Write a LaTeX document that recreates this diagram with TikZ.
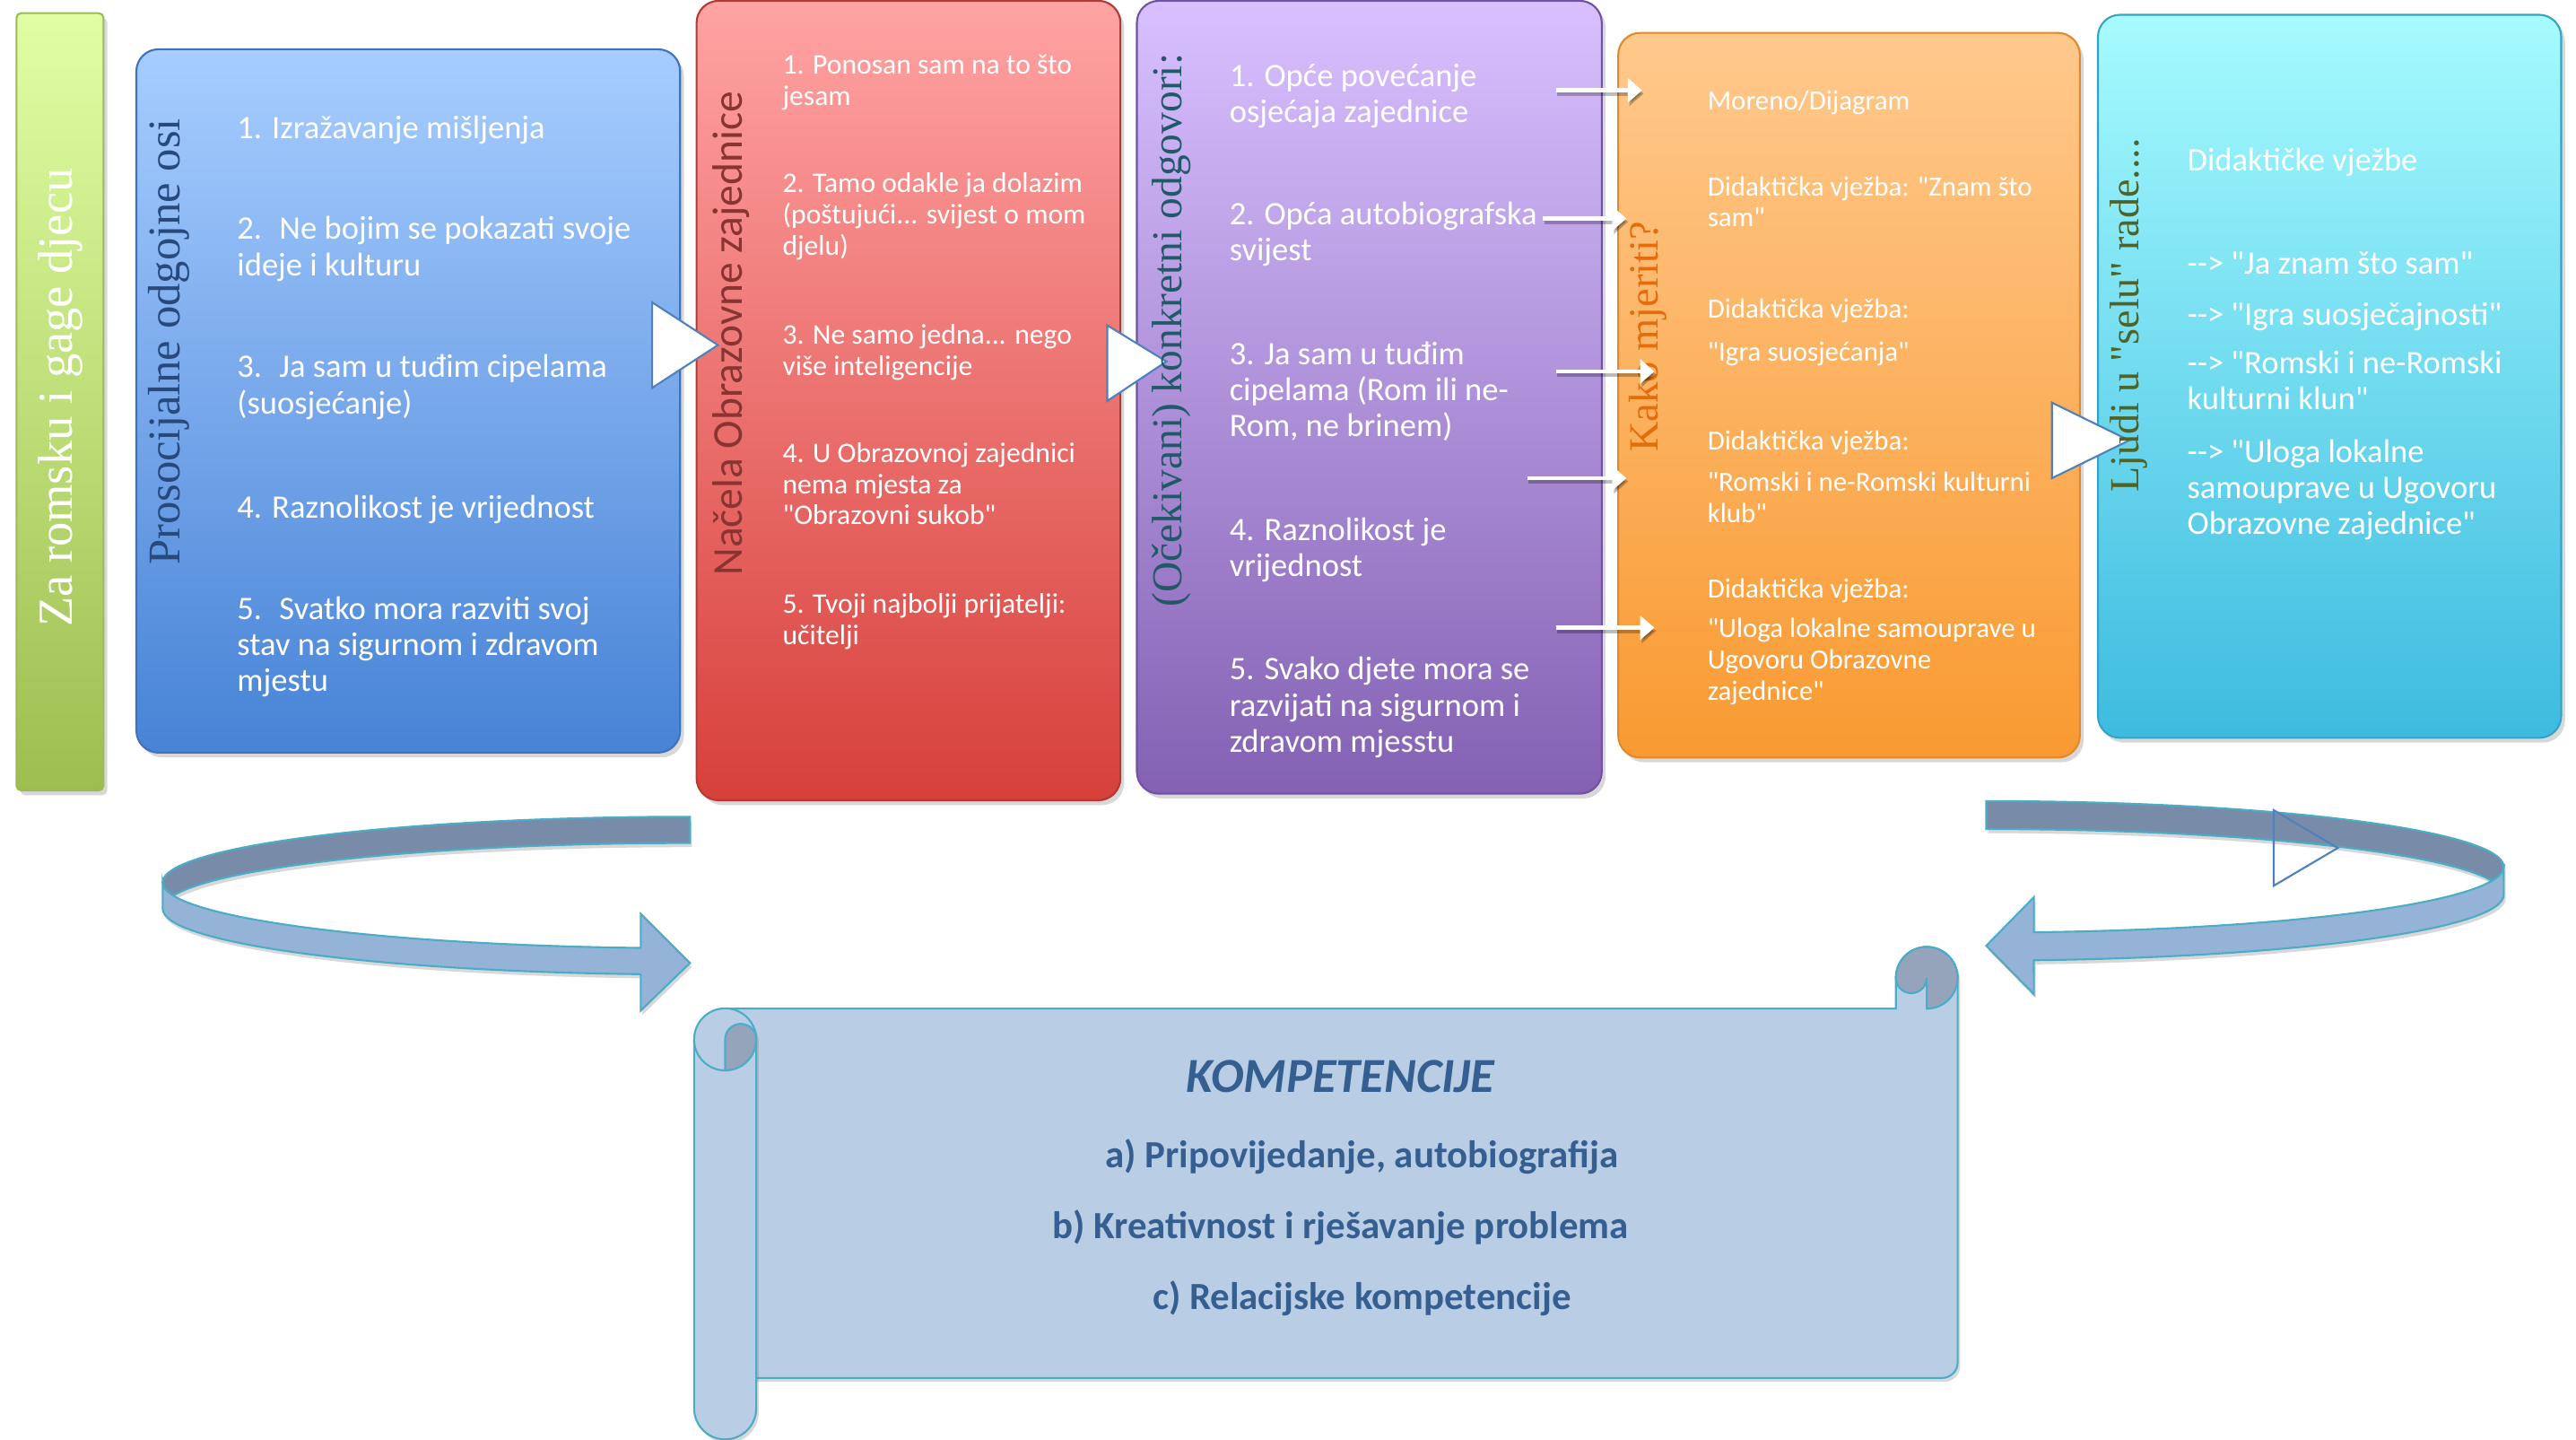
\documentclass[tikz,border=0pt]{standalone}
\usepackage{fontspec}
\setmainfont{Carlito}[Ligatures=TeXOff]
\newfontfamily\ttlserif{Liberation Serif}[Ligatures=TeXOff]
\usetikzlibrary{shadows,arrows.meta}
\definecolor{gTop}{HTML}{E0FFA4}\definecolor{gBot}{HTML}{9DBE4F}\definecolor{gEdge}{HTML}{9BBB59}
\definecolor{bTop}{HTML}{A7CDFF}\definecolor{bBot}{HTML}{4783D6}\definecolor{bEdge}{HTML}{3F72BD}
\definecolor{rTop}{HTML}{FFA3A3}\definecolor{rBot}{HTML}{D7403B}\definecolor{rEdge}{HTML}{B23A36}
\definecolor{pTop}{HTML}{D8C0FF}\definecolor{pBot}{HTML}{8461B3}\definecolor{pEdge}{HTML}{7052A0}
\definecolor{oTop}{HTML}{FFC98D}\definecolor{oBot}{HTML}{F99A31}\definecolor{oEdge}{HTML}{E3882B}
\definecolor{cTop}{HTML}{A6FBFF}\definecolor{cBot}{HTML}{3DBBE0}\definecolor{cEdge}{HTML}{36A3C4}
\definecolor{triEdge}{HTML}{4F81BD}
\definecolor{ribDarkC}{HTML}{788CA9}\definecolor{ribLightC}{HTML}{95B3D7}\definecolor{ribEdgeC}{HTML}{4BACC6}
\definecolor{scrFill}{HTML}{B9CDE5}\definecolor{scrDark}{HTML}{95A4BB}
\definecolor{kompC}{HTML}{365F91}
\definecolor{ttlBlue}{HTML}{27497C}\definecolor{ttlRed}{HTML}{8A3431}\definecolor{ttlTeal}{HTML}{215968}
\definecolor{ttlOrange}{HTML}{E46C0A}\definecolor{ttlOlive}{HTML}{4F6228}
\newcommand\fsB{\fontsize{10.4pt}{11.46pt}\selectfont}
\newcommand\fsR{\fontsize{9pt}{9.9pt}\selectfont}
\newcommand\fsO{\fontsize{8.8pt}{9.9pt}\selectfont}
\begin{document}
\begin{tikzpicture}[x=0.018316cm,y=-0.018316cm,
  itemB/.style={anchor=north west,inner sep=0pt,align=left,text=white,font=\fsB,execute at begin node=\strut},
  itemR/.style={itemB,font=\fsR},
  itemO/.style={itemB,font=\fsO},
  ttl/.style={rotate=90,inner sep=0pt,anchor=center},
  box/.style={rounded corners=7pt,line width=0.6pt,drop shadow={shadow xshift=1.2pt,shadow yshift=-1.5pt,opacity=0.3}},
  bigtri/.style={fill=white,draw=triEdge,line width=0.6pt},
  warrow/.style={draw=white,line width=1.3pt,-{Triangle[length=4.5pt,width=7.5pt]}},
  warrowsh/.style={draw=black,draw opacity=0.25,line width=1.3pt,-{Triangle[length=4.5pt,width=7.5pt]},fill opacity=0.25,fill=black},
  ribshadow/.style={drop shadow={shadow xshift=0.6pt,shadow yshift=-1.3pt,opacity=0.3}},
  ribdark/.style={fill=ribDarkC,draw=ribEdgeC,line width=0.6pt},
  riblight/.style={fill=ribLightC,draw=ribEdgeC,line width=0.6pt},
  scroll/.style={fill=scrFill,draw=ribEdgeC,line width=0.6pt},
  komp/.style={text=kompC,inner sep=0pt,anchor=center,font=\bfseries\fontsize{12.2pt}{14pt}\selectfont}
]
\fill[white] (0,0) rectangle (1568,876);
\useasboundingbox (0,0) rectangle (1568,876);

% ---------- boxes ----------
\path[box,rounded corners=1.5pt,top color=gTop,bottom color=gBot,draw=gEdge] (10,8) rectangle (63,481);
\path[box,top color=bTop,bottom color=bBot,draw=bEdge] (83,30) rectangle (414,458);
\path[box,top color=rTop,bottom color=rBot,draw=rEdge] (424,0.5) rectangle (682,487);
\path[box,top color=pTop,bottom color=pBot,draw=pEdge] (692,0.5) rectangle (975,483);
\path[box,top color=oTop,bottom color=oBot,draw=oEdge] (985,20) rectangle (1266,461);
\path[box,top color=cTop,bottom color=cBot,draw=cEdge] (1277,9) rectangle (1559,449);

% ---------- big triangles ----------
\path[bigtri] (397,184) -- (437,210) -- (397,236) -- cycle;
\path[bigtri] (674,198) -- (710,220) -- (674,244) -- cycle;
\path[bigtri] (1249,245) -- (1296,268) -- (1249,291) -- cycle;

% ---------- titles ----------
\node[ttl,text=white,font=\ttlserif\fontsize{15.5pt}{16pt}\selectfont] (t0) at (37,242) {Za romsku i gage djecu};
\node[ttl,text=ttlBlue,font=\ttlserif\fontsize{14.4pt}{15pt}\selectfont] (t1) at (103,208) {Prosocijalne odgojne osi};
\node[ttl,text=ttlRed,font=\fontsize{13.5pt}{14pt}\selectfont] (t2) at (445,203) {Načela Obrazovne zajednice};
\node[ttl,text=ttlTeal,font=\ttlserif\fontsize{13.5pt}{14pt}\selectfont] (t3) at (713,201) {(Očekivani) konkretni odgovori:};
\node[ttl,text=ttlOrange,font=\ttlserif\fontsize{13.2pt}{14pt}\selectfont] (t4) at (1003,205) {Kako mjeriti?};
\node[ttl,text=ttlOlive,font=\ttlserif\fontsize{13.1pt}{14pt}\selectfont] (t5) at (1296,192) {Ljudi u "selu" rade....};

% ---------- blue items ----------
\node[itemB] (b1) at (144,68.5) {1. Izražavanje mišljenja};
\node[itemB] (b2) at (144,131.5) {2.~ Ne bojim se pokazati svoje\\ideje i kulturu};
\node[itemB] (b3) at (144,215.5) {3.~ Ja sam u tuđim cipelama\\(suosjećanje)};
\node[itemB] (b4) at (144,299.5) {4. Raznolikost je vrijednost};
\node[itemB] (b5) at (144,362.5) {5.~ Svatko mora razviti svoj\\stav na sigurnom i zdravom\\mjestu};

% ---------- red items ----------
\node[itemR] (r1) at (476,33) {1. Ponosan sam na to što\\jesam};
\node[itemR] (r2) at (476,105) {2. Tamo odakle ja dolazim\\(poštujući... svijest o mom\\djelu)};
\node[itemR] (r3) at (476,197) {3. Ne samo jedna... nego\\više inteligencije};
\node[itemR] (r4) at (476,269) {4. U Obrazovnoj zajednici\\nema mjesta za\\"Obrazovni sukob"};
\node[itemR] (r5) at (476,361) {5. Tvoji najbolji prijatelji:\\učitelji};

% ---------- purple items ----------
\node[itemB] (p1) at (748,38.5) {1. Opće povećanje\\osjećaja zajednice};
\node[itemB] (p2) at (748,122.5) {2. Opća autobiografska\\svijest};
\node[itemB] (p3) at (748,207.5) {3. Ja sam u tuđim\\cipelama (Rom ili ne-\\Rom, ne brinem)};
\node[itemB] (p4) at (748,314.5) {4. Raznolikost je\\vrijednost};
\node[itemB] (p5) at (748,399.5) {5. Svako djete mora se\\razvijati na sigurnom i\\zdravom mjesstu};

% ---------- orange items ----------
\node[itemO] (o1) at (1039,53) {Moreno/Dijagram};
\node[itemO] (o2) at (1039,107) {Didaktička vježba: "Znam što\\sam"};
\node[itemO] (o3) at (1039,180) {Didaktička vježba:};
\node[itemO] (o4) at (1039,206) {"Igra suosjećanja"};
\node[itemO] (o5) at (1039,260) {Didaktička vježba:};
\node[itemO] (o6) at (1039,287) {"Romski i ne-Romski kulturni\\klub"};
\node[itemO] (o7) at (1039,350) {Didaktička vježba:};
\node[itemO] (o8) at (1039,376) {"Uloga lokalne samouprave u\\Ugovoru Obrazovne\\zajednice"};

% ---------- cyan items ----------
\node[itemB] (c1) at (1331,88.5) {Didaktičke vježbe};
\node[itemB] (c2) at (1331,151) {-{}-> "Ja znam što sam"};
\node[itemB] (c3) at (1331,182) {-{}-> "Igra suosječajnosti"};
\node[itemB] (c4) at (1331,213) {-{}-> "Romski i ne-Romski\\kulturni klun"};
\node[itemB] (c5) at (1331,267) {-{}-> "Uloga lokalne\\samouprave u Ugovoru\\Obrazovne zajednice"};

% ---------- white connectors ----------
\coordinate (a1s) at (947,55);   \coordinate (a1e) at (999.5,55);
\coordinate (a2s) at (939,133);  \coordinate (a2e) at (990,133);
\coordinate (a3s) at (947,226);  \coordinate (a3e) at (1007,226);
\coordinate (a4s) at (929.5,291);\coordinate (a4e) at (990,291);
\coordinate (a5s) at (947,382);  \coordinate (a5e) at (1007,382);
\foreach \s/\e in {a1s/a1e,a2s/a2e,a3s/a3e,a4s/a4e,a5s/a5e}{
  \draw[warrowsh] ([shift={(1,2)}]\s) -- ([shift={(1,2)}]\e);
  \draw[warrow] (\s) -- (\e);
}

% ---------- left ribbon arrow ----------
\path[ribdark,ribshadow] (99,537) arc[start angle=180,end angle=270,x radius=321,y radius=40]
  -- (420,513) arc[start angle=270,end angle=191.54,x radius=321,y radius=40]
  arc[start angle=168.46,end angle=180,x radius=321,y radius=40] -- cycle;
\path[riblight,ribshadow] (99,537) -- (99,553) arc[start angle=180,end angle=95.36,x radius=321,y radius=40]
  -- (390,615) -- (420,586) -- (390,556) -- (390,576.83)
  arc[start angle=95.36,end angle=180,x radius=321,y radius=40] -- cycle;

% ---------- right ribbon arrow ----------
\path[ribdark,ribshadow] (1209,487.5) arc[start angle=270,end angle=360,x radius=315,y radius=40]
  arc[start angle=0,end angle=12.27,x radius=315,y radius=40]
  arc[start angle=347.73,end angle=270,x radius=315,y radius=40] -- cycle;
\path[riblight,ribshadow] (1524,527.5) -- (1524,544.5) arc[start angle=0,end angle=84.72,x radius=315,y radius=40]
  -- (1238,605) -- (1209,575.5) -- (1238,546) -- (1238,567.3)
  arc[start angle=84.72,end angle=0,x radius=315,y radius=40] -- cycle;
\draw[triEdge,line width=0.6pt] (1384,493) -- (1423,516) -- (1384,539) -- cycle;

% ---------- scroll ----------
\path[scroll,drop shadow={shadow xshift=0.8pt,shadow yshift=-1.2pt,opacity=0.3}]
  (441.4,613.7) -- (1154,613.7) -- (1154,595) arc[start angle=180,end angle=360,radius=18.8]
  -- (1191.6,829.1) arc[start angle=0,end angle=90,radius=9.4] -- (441.4,838.5) -- cycle;
\path[fill=scrDark,draw=ribEdgeC,line width=0.6pt] (1154,595) arc[start angle=180,end angle=360,radius=18.8]
  arc[start angle=0,end angle=90,radius=18.8] -- (1172.8,595) arc[start angle=0,end angle=180,radius=9.4] -- cycle;
\path[scroll,drop shadow={shadow xshift=0.8pt,shadow yshift=-1.2pt,opacity=0.3}]
  (422.5,632.5) -- (422.5,857) arc[start angle=180,end angle=0,radius=18.9]
  -- (460.3,632.5) arc[start angle=0,end angle=-180,radius=18.9] -- cycle;
\path[fill=scrDark,draw=ribEdgeC,line width=0.6pt] (441.4,632.5) arc[start angle=180,end angle=360,radius=9.45]
  arc[start angle=0,end angle=90,radius=18.9] -- cycle;
\draw[ribEdgeC,line width=0.6pt] (422.5,632.5) arc[start angle=180,end angle=90,radius=18.9];

\node[komp,font=\bfseries\itshape\fontsize{15.5pt}{17pt}\selectfont] (k0) at (816,655) {KOMPETENCIJE};
\node[komp] (k1) at (829,704) {a) Pripovijedanje, autobiografija};
\node[komp] (k2) at (816,747) {b) Kreativnost i rješavanje problema};
\node[komp] (k3) at (829,790) {c) Relacijske kompetencije};
\end{tikzpicture}
\end{document}
